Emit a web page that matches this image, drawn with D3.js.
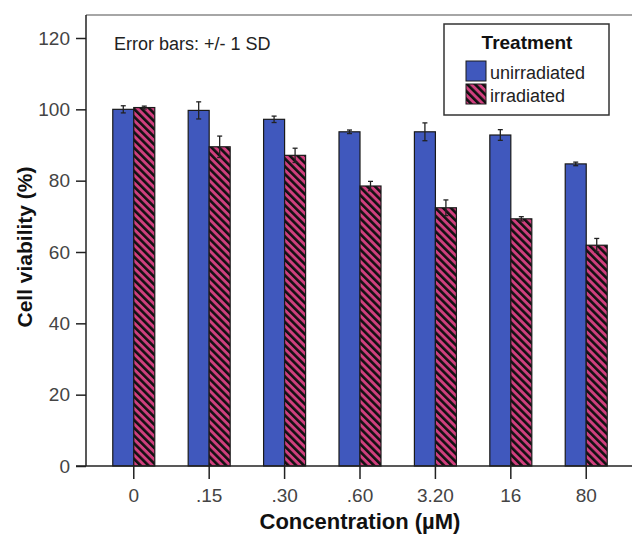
<!DOCTYPE html>
<html lang="en">
  <head>
    <meta charset="UTF-8" />
    <title>Cell viability</title>
    <script src="https://d3js.org/d3.v7.min.js"></script>
    <style>
      body { margin: 0; background: #fff; }
      svg text { font-family: Arial, "Liberation Sans", sans-serif; }
    </style>
  </head>
  <body>
    <div id="chart"></div>
    <script>
      // data
      const categories = ["0", ".15", ".30", ".60", "3.20", "16", "80"];
      const series = ["unirradiated", "irradiated"];
      const unirradiated = [100.0, 99.7, 97.2, 93.7, 93.7, 92.8, 84.7];
      const unirradiatedSD = [1.0, 2.4, 0.9, 0.5, 2.5, 1.5, 0.5];
      const irradiated = [100.5, 89.5, 87.1, 78.5, 72.4, 69.3, 61.9];
      const irradiatedSD = [0.4, 3.0, 2.0, 1.3, 2.2, 0.6, 1.9];
      const yTicks = [0, 20, 40, 60, 80, 100, 120];

      const width = 632;
      const height = 535;
      const plotLeft = 86, plotBottom = 466, plotTop = 15, plotRight = 634;

      const blue = "#4058bd";
      const pink = "#d03f7e";

      const svg = d3
        .select("#chart")
        .append("svg")
        .attr("width", width)
        .attr("height", height);

      // stripes for the irradiated bars
      const defs = svg.append("defs");
      const pat = defs
        .append("pattern")
        .attr("id", "stripes")
        .attr("patternUnits", "userSpaceOnUse")
        .attr("width", 5.5)
        .attr("height", 5.5)
        .attr("patternTransform", "rotate(-45)");
      pat.append("rect").attr("width", 5.5).attr("height", 5.5).attr("fill", pink);
      pat
        .append("line")
        .attr("x1", 1.3).attr("x2", 1.3)
        .attr("y1", 0).attr("y2", 5.5)
        .attr("stroke", "#111")
        .attr("stroke-width", 2.6);

      const x = d3
        .scaleBand()
        .domain(categories)
        .range([plotLeft, plotRight])
        .paddingInner(0.443)
        .paddingOuter(0.355);

      const xs = d3.scaleBand().domain(series).range([0, x.bandwidth()]);

      const y = d3.scaleLinear().domain([0, 120]).range([plotBottom, 38]);

      // frame top line
      svg
        .append("line")
        .attr("x1", plotLeft).attr("x2", width)
        .attr("y1", plotTop).attr("y2", plotTop)
        .attr("stroke", "#888")
        .attr("stroke-width", 1.5);

      // y axis
      const yAxis = svg
        .append("g")
        .attr("transform", `translate(${plotLeft},0)`)
        .call(d3.axisLeft(y).tickValues(yTicks).tickSize(10).tickPadding(6));
      yAxis.select(".domain").remove();
      yAxis.selectAll(".tick line").attr("stroke", "#222").attr("stroke-width", 1.5);
      yAxis.selectAll(".tick text")
        .attr("font-size", "19px")
        .attr("fill", "#444")
        .style("font-family", "Arial, 'Liberation Sans', sans-serif");

      // x axis
      const xAxis = svg
        .append("g")
        .attr("transform", `translate(0,${plotBottom})`)
        .call(d3.axisBottom(x).tickSize(13).tickPadding(10));
      xAxis.select(".domain").remove();
      xAxis.selectAll(".tick line").attr("stroke", "#222").attr("stroke-width", 1.5);
      xAxis.selectAll(".tick text")
        .attr("font-size", "19px")
        .attr("fill", "#444")
        .style("font-family", "Arial, 'Liberation Sans', sans-serif");

      // bars
      const rows = categories.map((c, i) => [
        { cat: c, key: "unirradiated", v: unirradiated[i], sd: unirradiatedSD[i] },
        { cat: c, key: "irradiated", v: irradiated[i], sd: irradiatedSD[i] },
      ]).flat();

      svg
        .append("g")
        .selectAll("rect")
        .data(rows)
        .join("rect")
        .attr("x", (d) => x(d.cat) + xs(d.key))
        .attr("y", (d) => y(d.v))
        .attr("width", xs.bandwidth())
        .attr("height", (d) => y(0) - y(d.v))
        .attr("fill", (d) => (d.key === "unirradiated" ? blue : "url(#stripes)"))
        .attr("stroke", "#1a1a1a")
        .attr("stroke-width", 1.2);

      // error bars (+/- 1 SD)
      const err = svg.append("g").attr("stroke", "#222").attr("stroke-width", 1.3);
      rows.forEach((d) => {
        const cx = x(d.cat) + xs(d.key) + xs.bandwidth() / 2;
        const hi = y(d.v + d.sd), lo = y(d.v - d.sd);
        err.append("line").attr("x1", cx).attr("x2", cx).attr("y1", hi).attr("y2", lo);
        err.append("line").attr("x1", cx - 2.5).attr("x2", cx + 2.5).attr("y1", hi).attr("y2", hi);
        err.append("line").attr("x1", cx - 2.5).attr("x2", cx + 2.5).attr("y1", lo).attr("y2", lo);
      });

      // axis lines
      svg
        .append("line")
        .attr("x1", plotLeft).attr("x2", plotLeft)
        .attr("y1", plotTop).attr("y2", plotBottom)
        .attr("stroke", "#222")
        .attr("stroke-width", 1.5);
      svg
        .append("line")
        .attr("x1", plotLeft - 10).attr("x2", width)
        .attr("y1", plotBottom).attr("y2", plotBottom)
        .attr("stroke", "#222")
        .attr("stroke-width", 1.5);

      // annotation
      svg
        .append("text")
        .attr("x", 114)
        .attr("y", 50)
        .attr("font-size", "18px")
        .attr("fill", "#222")
        .text("Error bars: +/- 1 SD");

      // axis titles
      svg
        .append("text")
        .attr("transform", "translate(32,247) rotate(-90)")
        .attr("text-anchor", "middle")
        .attr("font-size", "21px")
        .attr("font-weight", "bold")
        .attr("fill", "#111")
        .text("Cell viability (%)");

      svg
        .append("text")
        .attr("x", 360)
        .attr("y", 529)
        .attr("text-anchor", "middle")
        .attr("font-size", "22px")
        .attr("font-weight", "bold")
        .attr("fill", "#111")
        .text("Concentration (\u00b5M)");

      // legend
      const legend = svg.append("g");
      legend
        .append("rect")
        .attr("x", 444).attr("y", 24)
        .attr("width", 165).attr("height", 91)
        .attr("fill", "#fff")
        .attr("stroke", "#333")
        .attr("stroke-width", 1.5);
      legend
        .append("text")
        .attr("x", 527).attr("y", 49)
        .attr("text-anchor", "middle")
        .attr("font-size", "19px")
        .attr("font-weight", "bold")
        .attr("fill", "#111")
        .text("Treatment");
      series.forEach((s, i) => {
        legend
          .append("rect")
          .attr("x", 466).attr("y", 61 + i * 23)
          .attr("width", 20).attr("height", 20)
          .attr("fill", s === "unirradiated" ? blue : "url(#stripes)")
          .attr("stroke", "#1a1a1a")
          .attr("stroke-width", 1);
        legend
          .append("text")
          .attr("x", 490).attr("y", 79 + i * 23)
          .attr("font-size", "18px")
          .attr("fill", "#222")
          .text(s);
      });
    </script>
  </body>
</html>
